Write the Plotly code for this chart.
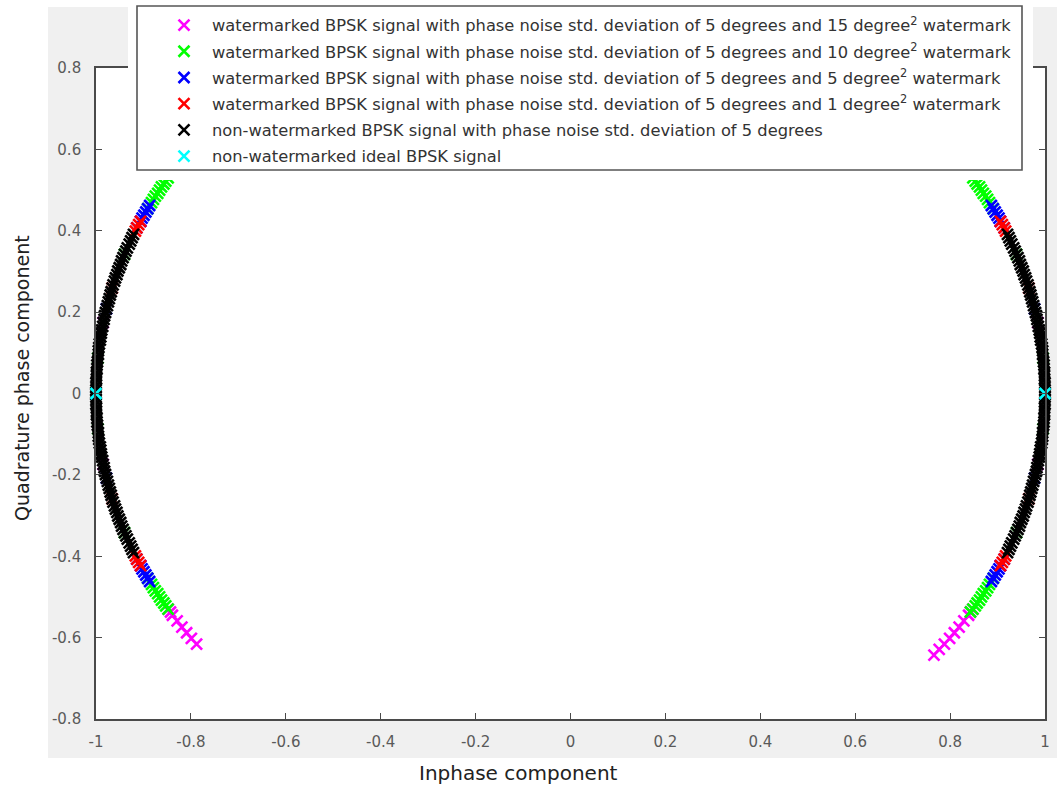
import plotly.graph_objects as go

# ---- data (I = inphase, Q = quadrature) ----
# watermarked, 15 degree^2 watermark (magenta)
mag_i = [0.788, 0.799, 0.809, 0.819, 0.906, 0.985, 0.985, 0.906, 0.848, 0.843, 0.839, 0.829, 0.819, 0.809, 0.799, 0.788, 0.777, 0.766,
         -0.788, -0.799, -0.809, -0.819, -0.906, -0.985, -0.985, -0.906, -0.848, -0.843, -0.839, -0.829, -0.819, -0.809, -0.799, -0.788]
mag_q = [0.616, 0.602, 0.588, 0.574, 0.423, 0.174, -0.174, -0.423, -0.530, -0.537, -0.545, -0.559, -0.574, -0.588, -0.602, -0.616, -0.629, -0.643,
         0.616, 0.602, 0.588, 0.574, 0.423, 0.174, -0.174, -0.423, -0.530, -0.537, -0.545, -0.559, -0.574, -0.588, -0.602, -0.616]

# watermarked, 10 degree^2 watermark (green)
grn_i = [0.848, 0.853, 0.857, 0.862, 0.866, 0.870, 0.875, 0.879, 0.883, 0.891, 0.940, 0.996, 0.996, 0.940, 0.891, 0.883, 0.879, 0.875, 0.870, 0.866, 0.862, 0.857, 0.853, 0.848, 0.843,
         -0.848, -0.853, -0.857, -0.862, -0.866, -0.870, -0.875, -0.879, -0.883, -0.891, -0.940, -0.996, -0.996, -0.940, -0.891, -0.883, -0.879, -0.875, -0.870, -0.866, -0.862, -0.857, -0.853, -0.848]
grn_q = [0.530, 0.522, 0.515, 0.508, 0.500, 0.492, 0.485, 0.477, 0.469, 0.454, 0.342, 0.087, -0.087, -0.342, -0.454, -0.469, -0.477, -0.485, -0.492, -0.500, -0.508, -0.515, -0.522, -0.530, -0.537,
         0.530, 0.522, 0.515, 0.508, 0.500, 0.492, 0.485, 0.477, 0.469, 0.454, 0.342, 0.087, -0.087, -0.342, -0.454, -0.469, -0.477, -0.485, -0.492, -0.500, -0.508, -0.515, -0.522, -0.530]

# watermarked, 5 degree^2 watermark (blue)
blu_i = [0.887, 0.891, 0.895, 0.899, 0.903, 0.906, 0.914, 0.978, 0.978, 0.914, 0.906, 0.903, 0.899, 0.895, 0.891, 0.887,
         -0.887, -0.891, -0.895, -0.899, -0.903, -0.906, -0.914, -0.978, -0.978, -0.914, -0.906, -0.903, -0.899, -0.895, -0.891, -0.887]
blu_q = [0.462, 0.454, 0.446, 0.438, 0.431, 0.423, 0.407, 0.208, -0.208, -0.407, -0.423, -0.431, -0.438, -0.446, -0.454, -0.462,
         0.462, 0.454, 0.446, 0.438, 0.431, 0.423, 0.407, 0.208, -0.208, -0.407, -0.423, -0.431, -0.438, -0.446, -0.454, -0.462]

# watermarked, 1 degree^2 watermark (red)
red_i = [0.906, 0.910, 0.914, 0.917, 0.966, 1.000, 0.966, 0.917, 0.914, 0.910, 0.906,
         -0.906, -0.910, -0.914, -0.917, -0.966, -1.000, -0.966, -0.917, -0.914, -0.910, -0.906]
red_q = [0.423, 0.415, 0.407, 0.399, 0.259, 0.000, -0.259, -0.399, -0.407, -0.415, -0.423,
         0.423, 0.415, 0.407, 0.399, 0.259, 0.000, -0.259, -0.399, -0.407, -0.415, -0.423]

# non-watermarked with phase noise (black) - dense band on both arcs
blk_i = [0.921, 0.924, 0.927, 0.930, 0.934, 0.937, 0.940, 0.943, 0.946, 0.948, 0.951, 0.954, 0.956, 0.959, 0.961, 0.964,
         0.966, 0.968, 0.970, 0.972, 0.974, 0.976, 0.978, 0.980, 0.982, 0.983, 0.985, 0.986, 0.988, 0.989, 0.990, 0.991,
         0.993, 0.994, 0.995, 0.995, 0.996, 0.997, 0.998, 0.998, 0.999, 0.999, 0.999, 1.000, 1.000, 1.000, 1.000,
         1.000, 1.000, 1.000, 0.999, 0.999, 0.999, 0.998, 0.998, 0.997, 0.996, 0.995, 0.995, 0.994, 0.993, 0.991, 0.990,
         0.989, 0.988, 0.986, 0.985, 0.983, 0.982, 0.980, 0.978, 0.976, 0.974, 0.972, 0.970, 0.968, 0.966, 0.964, 0.961,
         0.959, 0.956, 0.954, 0.951, 0.948, 0.946, 0.943, 0.940, 0.937, 0.934, 0.930, 0.927, 0.924, 0.921,
         -0.921, -0.924, -0.927, -0.930, -0.934, -0.937, -0.940, -0.943, -0.946, -0.948, -0.951, -0.954, -0.956, -0.959, -0.961, -0.964,
         -0.966, -0.968, -0.970, -0.972, -0.974, -0.976, -0.978, -0.980, -0.982, -0.983, -0.985, -0.986, -0.988, -0.989, -0.990, -0.991,
         -0.993, -0.994, -0.995, -0.995, -0.996, -0.997, -0.998, -0.998, -0.999, -0.999, -0.999, -1.000, -1.000, -1.000, -1.000,
         -1.000, -1.000, -1.000, -0.999, -0.999, -0.999, -0.998, -0.998, -0.997, -0.996, -0.995, -0.995, -0.994, -0.993, -0.991, -0.990,
         -0.989, -0.988, -0.986, -0.985, -0.983, -0.982, -0.980, -0.978, -0.976, -0.974, -0.972, -0.970, -0.968, -0.966, -0.964, -0.961,
         -0.959, -0.956, -0.954, -0.951, -0.948, -0.946, -0.943, -0.940, -0.937, -0.934, -0.930, -0.927, -0.924, -0.921]
blk_q = [-0.391, -0.383, -0.375, -0.367, -0.358, -0.350, -0.342, -0.334, -0.326, -0.317, -0.309, -0.301, -0.292, -0.284, -0.276, -0.267,
         -0.259, -0.250, -0.242, -0.233, -0.225, -0.216, -0.208, -0.199, -0.191, -0.182, -0.174, -0.165, -0.156, -0.148, -0.139, -0.131,
         -0.122, -0.113, -0.105, -0.096, -0.087, -0.078, -0.070, -0.061, -0.052, -0.044, -0.035, -0.026, -0.017, -0.009, 0.000,
         0.009, 0.017, 0.026, 0.035, 0.044, 0.052, 0.061, 0.070, 0.078, 0.087, 0.096, 0.105, 0.113, 0.122, 0.131, 0.139,
         0.148, 0.156, 0.165, 0.174, 0.182, 0.191, 0.199, 0.208, 0.216, 0.225, 0.233, 0.242, 0.250, 0.259, 0.267, 0.276,
         0.284, 0.292, 0.301, 0.309, 0.317, 0.326, 0.334, 0.342, 0.350, 0.358, 0.367, 0.375, 0.383, 0.391,
         -0.391, -0.383, -0.375, -0.367, -0.358, -0.350, -0.342, -0.334, -0.326, -0.317, -0.309, -0.301, -0.292, -0.284, -0.276, -0.267,
         -0.259, -0.250, -0.242, -0.233, -0.225, -0.216, -0.208, -0.199, -0.191, -0.182, -0.174, -0.165, -0.156, -0.148, -0.139, -0.131,
         -0.122, -0.113, -0.105, -0.096, -0.087, -0.078, -0.070, -0.061, -0.052, -0.044, -0.035, -0.026, -0.017, -0.009, 0.000,
         0.009, 0.017, 0.026, 0.035, 0.044, 0.052, 0.061, 0.070, 0.078, 0.087, 0.096, 0.105, 0.113, 0.122, 0.131, 0.139,
         0.148, 0.156, 0.165, 0.174, 0.182, 0.191, 0.199, 0.208, 0.216, 0.225, 0.233, 0.242, 0.250, 0.259, 0.267, 0.276,
         0.284, 0.292, 0.301, 0.309, 0.317, 0.326, 0.334, 0.342, 0.350, 0.358, 0.367, 0.375, 0.383, 0.391]

# ideal BPSK (cyan)
cyan_i = [1.0, -1.0]
cyan_q = [0.0, 0.0]

series_names = [
    "watermarked BPSK signal with phase noise std. deviation of 5 degrees and 15 degree<sup>2</sup> watermark",
    "watermarked BPSK signal with phase noise std. deviation of 5 degrees and 10 degree<sup>2</sup> watermark",
    "watermarked BPSK signal with phase noise std. deviation of 5 degrees and 5 degree<sup>2</sup> watermark",
    "watermarked BPSK signal with phase noise std. deviation of 5 degrees and 1 degree<sup>2</sup> watermark",
    "non-watermarked BPSK signal with phase noise std. deviation of 5 degrees",
    "non-watermarked ideal BPSK signal",
]
series_colors = ["#ff00ff", "#00ff00", "#0000ff", "#ff0000", "#000000", "#00ffff"]
series_i = [mag_i, grn_i, blu_i, red_i, blk_i, cyan_i]
series_q = [mag_q, grn_q, blu_q, red_q, blk_q, cyan_q]

x_ticks = [-1, -0.8, -0.6, -0.4, -0.2, 0, 0.2, 0.4, 0.6, 0.8, 1]
x_ticklabels = ["-1", "-0.8", "-0.6", "-0.4", "-0.2", "0", "0.2", "0.4", "0.6", "0.8", "1"]
y_ticks = [-0.8, -0.6, -0.4, -0.2, 0, 0.2, 0.4, 0.6, 0.8]
y_ticklabels = ["-0.8", "-0.6", "-0.4", "-0.2", "0", "0.2", "0.4", "0.6", "0.8"]

W, H = 1057, 786
L, R, T, B = 96, 12, 68, 67
PW, PH = W - L - R, H - T - B


def px(xp):
    return (xp - L) / PW


def py(yp):
    return (H - B - yp) / PH


fig = go.Figure()
for k, (name, col, xi, yq) in enumerate(zip(series_names, series_colors, series_i, series_q)):
    fig.add_trace(go.Scatter(
        x=xi, y=yq, mode="markers", name=name, cliponaxis=False, legendgroup="g%d" % k,
        marker=dict(symbol="x-thin", size=11, line=dict(color=col, width=2.6), color=col),
    ))

axis_common = dict(
    showgrid=False, zeroline=False, showline=True, linecolor="#4a4a4a", linewidth=1.6,
    mirror="ticks", ticks="inside", ticklen=6, tickwidth=1.2, tickcolor="#4a4a4a",
    tickfont=dict(family="DejaVu Sans", size=15, color="#5a5a5a"),
)
fig.update_xaxes(range=[-1, 1], tickmode="array", tickvals=x_ticks, ticktext=x_ticklabels,
                 ticklabelstandoff=8, **axis_common)
fig.update_yaxes(range=[-0.8, 0.8], tickmode="array", tickvals=y_ticks, ticktext=y_ticklabels,
                 ticklabelstandoff=10, **axis_common)

shapes = [
    # grey figure background
    dict(type="rect", xref="paper", yref="paper", x0=px(48), x1=px(1057), y0=py(758), y1=py(7),
         fillcolor="#f0f0f0", line=dict(width=0), layer="below"),
    # white axes area
    dict(type="rect", xref="paper", yref="paper", x0=0, x1=1, y0=0, y1=1,
         fillcolor="#ffffff", line=dict(width=0), layer="below"),
    # white halo around legend
    dict(type="rect", xref="paper", yref="paper", x0=px(128), x1=px(1033), y0=py(180), y1=py(-5),
         fillcolor="#ffffff", line=dict(width=0), layer="above"),
    # legend box
    dict(type="rect", xref="paper", yref="paper", x0=px(137), x1=px(1022), y0=py(170), y1=py(6),
         fillcolor="#ffffff", line=dict(color="#555555", width=1.6), layer="above"),
]

annotations = [
    dict(text="Inphase component", xref="paper", yref="paper", x=px(518), y=py(773),
         xanchor="center", yanchor="middle", showarrow=False,
         font=dict(family="DejaVu Sans", size=20, color="#222222")),
    dict(text="Quadrature phase component", xref="paper", yref="paper", x=px(22), y=py(378),
         xanchor="center", yanchor="middle", showarrow=False, textangle=-90,
         font=dict(family="DejaVu Sans", size=19, color="#222222")),
]

fig.update_layout(
    width=W, height=H, margin=dict(l=L, r=R, t=T, b=B, autoexpand=False),
    paper_bgcolor="#ffffff", plot_bgcolor="#ffffff",
    shapes=shapes, annotations=annotations,
    showlegend=True,
    legend=dict(xref="container", yref="container", x=156 / W, y=1 - 8 / H,
                xanchor="left", yanchor="top", bgcolor="rgba(0,0,0,0)", borderwidth=0,
                font=dict(family="DejaVu Sans", size=16.3, color="#333333"),
                itemwidth=46, tracegroupgap=2),
)

fig.write_html("out.html")
